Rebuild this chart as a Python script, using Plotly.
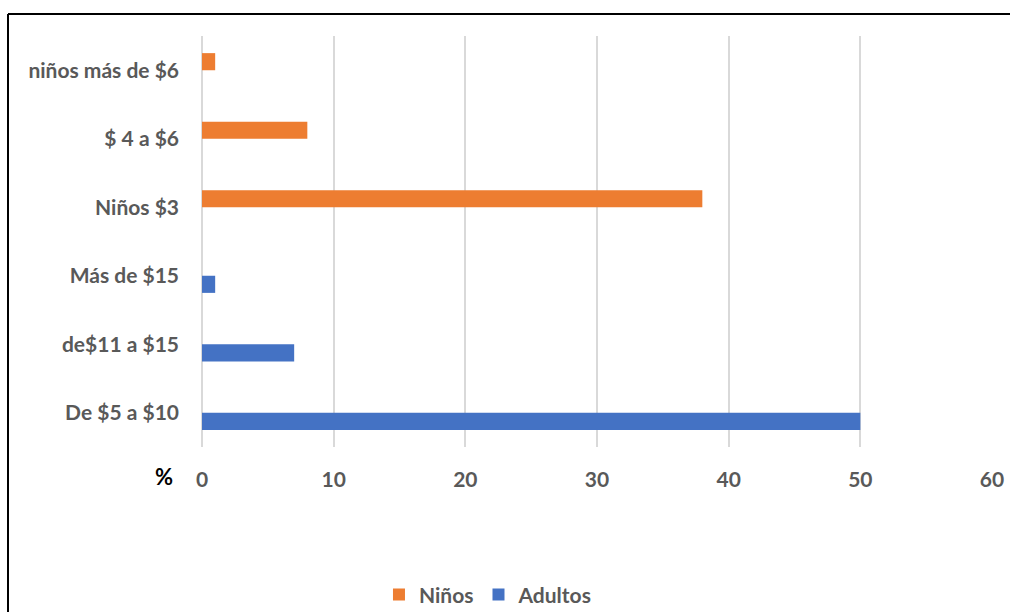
import plotly.graph_objects as go

# Price ranges, bottom to top
categories = ["De $5 a $10", "de$11 a $15", "Más de $15",
              "Niños $3", "$ 4 a $6", "niños más de $6"]
adultos = [50, 7, 1, None, None, None]
ninos = [None, None, None, 38, 8, 1]
x_ticks = [0, 10, 20, 30, 40, 50, 60]

ORANGE = "#ED7D31"
BLUE = "#4472C4"
GRAY = "#595959"
FONT = "Lato"
SIZE = 21

fig = go.Figure()
fig.add_trace(go.Bar(y=categories, x=adultos, orientation="h", name="Adultos",
                     marker=dict(color=BLUE, line=dict(width=0)), legendrank=2))
fig.add_trace(go.Bar(y=categories, x=ninos, orientation="h", name="Niños",
                     marker=dict(color=ORANGE, line=dict(width=0)), legendrank=1))

fig.update_layout(
    width=1010, height=612,
    margin=dict(l=202, r=18, t=36, b=165, autoexpand=False),
    paper_bgcolor="white", plot_bgcolor="white",
    barmode="group", bargap=0.5, bargroupgap=0,
    font=dict(family=FONT, color=GRAY, size=SIZE),
    showlegend=True,
    legend=dict(orientation="h", x=0.362, xanchor="center", y=-0.36, yanchor="middle",
                font=dict(family=FONT, size=SIZE, color=GRAY, weight="bold"),
                itemwidth=30, tracegroupgap=0),
    xaxis=dict(range=[0, 60], tickvals=x_ticks, showgrid=True, gridcolor="#D9D9D9",
               gridwidth=2, zeroline=True, zerolinecolor="#D9D9D9", zerolinewidth=2,
               showline=False, ticks="", ticklabelstandoff=18, automargin=False,
               tickfont=dict(family=FONT, size=SIZE, color=GRAY, weight="bold")),
    yaxis=dict(type="category", categoryorder="array", categoryarray=categories,
               showgrid=False, zeroline=False, showline=False, ticks="",
               ticklabelstandoff=22, automargin=False,
               tickfont=dict(family=FONT, size=SIZE, color=GRAY, weight="bold")),
)

# "%" label beside the x-axis tick labels
fig.add_annotation(text="%", xref="paper", yref="paper",
                   x=(164 - 202) / 790, y=(447 - 476) / 411,
                   showarrow=False, xanchor="center", yanchor="middle",
                   font=dict(family=FONT, size=22, color="black", weight="bold"))

# Frame around the chart
fig.add_shape(type="line", xref="paper", yref="paper",
              x0=(8 - 202) / 790, x1=(1012 - 202) / 790,
              y0=(447 - 14) / 411, y1=(447 - 14) / 411,
              line=dict(color="black", width=2))
fig.add_shape(type="line", xref="paper", yref="paper",
              x0=(8 - 202) / 790, x1=(8 - 202) / 790,
              y0=(447 - 14) / 411, y1=(447 - 614) / 411,
              line=dict(color="black", width=2))

fig.write_html("out.html")
